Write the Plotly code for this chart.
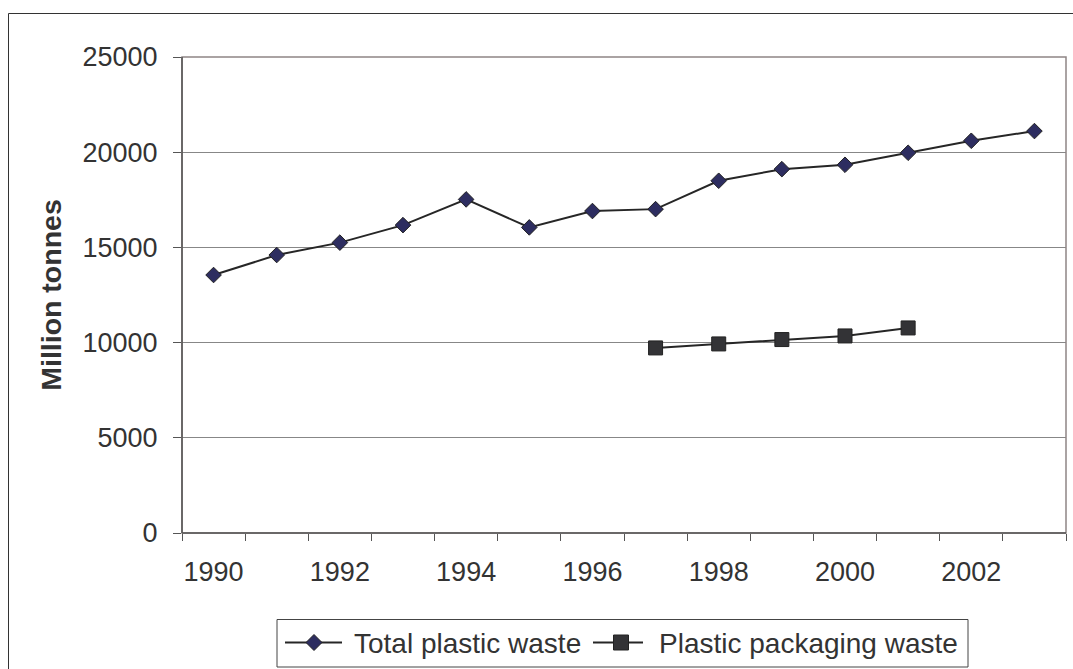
import plotly.graph_objects as go

# Annual plastic waste, million tonnes
years = list(range(1990, 2004))
total_waste = [13550, 14600, 15250, 16170, 17520, 16050, 16910,
               17010, 18500, 19110, 19340, 19970, 20600, 21110]
packaging_years = [1997, 1998, 1999, 2000, 2001]
packaging_waste = [9720, 9930, 10160, 10350, 10770]

label_years = list(range(1990, 2004, 2))
boundaries = [y - 0.5 for y in range(1990, 2005)]
y_ticks = [0, 5000, 10000, 15000, 20000, 25000]

series_names = ["Total plastic waste", "Plastic packaging waste"]

W, H = 1073, 669
L, R, T, B = 182, 7, 57, 136
pw, ph = W - L - R, H - T - B


def px_x(x):
    return (x - L) / pw


def px_y(y):
    return (H - B - y) / ph


FONT = "Liberation Sans, Arial, sans-serif"
TEXT = "#333333"
LINE = "#262626"
NAVY = "#2d2d60"
DARK = "#333336"

fig = go.Figure()
fig.add_trace(go.Scatter(
    x=years, y=total_waste, name=series_names[0],
    mode="lines+markers",
    line=dict(color=LINE, width=2),
    marker=dict(symbol="diamond", size=12, color=NAVY,
                line=dict(color="#222222", width=1)),
))
fig.add_trace(go.Scatter(
    x=packaging_years, y=packaging_waste, name=series_names[1],
    mode="lines+markers",
    line=dict(color=LINE, width=2),
    marker=dict(symbol="square", size=14, color=DARK,
                line=dict(color="#222222", width=1)),
))
# invisible trace carrying the category-boundary tick axis
fig.add_trace(go.Scatter(x=[boundaries[0]], y=[0], xaxis="x2",
                         mode="markers", marker=dict(opacity=0),
                         showlegend=False, hoverinfo="skip"))

fig.update_layout(
    width=W, height=H,
    margin=dict(l=L, r=R, t=T, b=B, autoexpand=False),
    paper_bgcolor="white", plot_bgcolor="white",
    font=dict(family=FONT, size=27, color=TEXT),
    showlegend=False,
    xaxis=dict(range=[1989.5, 2003.5], tickvals=label_years,
               ticktext=[str(y) for y in label_years],
               ticks="", showgrid=False, zeroline=False,
               showline=False, automargin=False, ticklabelstandoff=20,
               tickfont=dict(size=27, color=TEXT)),
    xaxis2=dict(range=[1989.5, 2003.5], overlaying="x", side="bottom",
                tickvals=boundaries, ticks="outside", ticklen=7,
                tickcolor="#555555", tickwidth=1, showticklabels=False,
                showgrid=False, zeroline=False, showline=False,
                automargin=False),
    yaxis=dict(range=[0, 25000], tickvals=y_ticks,
               ticktext=[str(v) for v in y_ticks],
               ticks="outside", ticklen=8, tickcolor="#555555",
               showgrid=True, gridcolor="#878787", gridwidth=1,
               zeroline=False, showline=False, automargin=False,
               ticklabelstandoff=10,
               tickfont=dict(size=27, color=TEXT),
               title=dict(text="<b>Million tonnes</b>",
                          font=dict(size=28.5, color=TEXT), standoff=12)),
)

shapes = [
    # plot area frame
    dict(type="rect", xref="paper", yref="paper", x0=0, x1=1, y0=0, y1=1,
         line=dict(color="#8f8585", width=1.5), layer="above"),
    # axis lines
    dict(type="line", xref="paper", yref="paper", x0=0, x1=0, y0=0, y1=1,
         line=dict(color="#555555", width=1.5), layer="above"),
    dict(type="line", xref="paper", yref="paper", x0=0, x1=1, y0=0, y1=0,
         line=dict(color="#555555", width=1.5), layer="above"),
    # outer chart frame
    dict(type="rect", xref="paper", yref="paper",
         x0=px_x(8.5), x1=px_x(1090), y0=px_y(690), y1=px_y(13.5),
         line=dict(color="#333333", width=1)),
    # legend box
    dict(type="rect", xref="paper", yref="paper",
         x0=px_x(277), x1=px_x(968), y0=px_y(667), y1=px_y(619.5),
         line=dict(color="#444444", width=1), fillcolor="white"),
]

# legend keys: line segment with the series marker in the middle
ly = 642.5
keys = [
    dict(x0=285, x1=342, cx=314, text_x=352, kind="diamond",
         name=series_names[0]),
    dict(x0=593, x1=643, cx=621, text_x=657, kind="square",
         name=series_names[1]),
]
annotations = []
for k in keys:
    shapes.append(dict(type="line", xref="paper", yref="paper",
                       x0=px_x(k["x0"]), x1=px_x(k["x1"]),
                       y0=px_y(ly), y1=px_y(ly),
                       line=dict(color=LINE, width=2)))
    if k["kind"] == "diamond":
        cx, r = k["cx"], 8
        path = (f"M {px_x(cx - r)} {px_y(ly)} L {px_x(cx)} {px_y(ly - r)} "
                f"L {px_x(cx + r)} {px_y(ly)} L {px_x(cx)} {px_y(ly + r)} Z")
        shapes.append(dict(type="path", xref="paper", yref="paper", path=path,
                           fillcolor=NAVY, line=dict(color="#222222", width=1)))
    else:
        cx, r = k["cx"], 7.5
        shapes.append(dict(type="rect", xref="paper", yref="paper",
                           x0=px_x(cx - r), x1=px_x(cx + r),
                           y0=px_y(ly + r), y1=px_y(ly - r),
                           fillcolor=DARK, line=dict(color="#222222", width=1)))
    annotations.append(dict(xref="paper", yref="paper",
                            x=px_x(k["text_x"]), y=px_y(ly + 1),
                            xanchor="left", yanchor="middle",
                            text=k["name"], showarrow=False,
                            font=dict(size=28, color=TEXT)))

fig.update_layout(shapes=shapes, annotations=annotations)

fig.write_html("out.html")
